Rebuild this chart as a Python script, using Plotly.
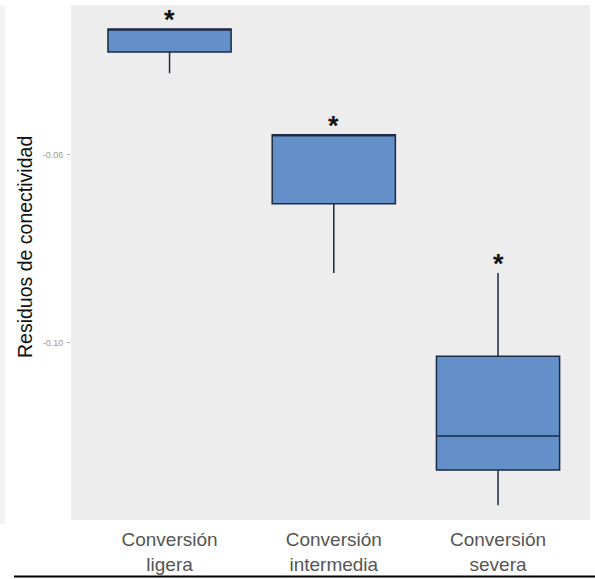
import plotly.graph_objects as go

# Connectivity residuals by land-conversion class (box summary statistics)
categories = ["Conversión<br>ligera", "Conversión<br>intermedia", "Conversión<br>severa"]
positions = [0, 1, 2]
q1 = [-0.0381, -0.0704, -0.1270]
median = [-0.0332, -0.0557, -0.1198]
q3 = [-0.0332, -0.0557, -0.1028]
lower_fence = [-0.0426, -0.0851, -0.1345]
upper_fence = [-0.0332, -0.0557, -0.0851]
significance = ["*", "*", "*"]

y_ticks = [-0.06, -0.10]
y_tick_labels = ["-0.06", "-0.10"]

W, H = 595, 579
M_L, M_R, M_T, M_B = 71, 5, 5, 59

fig = go.Figure()

fig.add_trace(go.Box(
    x=positions,
    q1=q1,
    median=median,
    q3=q3,
    lowerfence=lower_fence,
    upperfence=upper_fence,
    width=0.75,
    whiskerwidth=0,
    fillcolor="#6390c8",
    line=dict(color="#1c2a45", width=1.5),
    boxpoints=False,
    hoverinfo="skip",
    showlegend=False,
))

# Significance marks just above each box's upper extent
for xp, top, mark in zip(positions, upper_fence, significance):
    fig.add_annotation(
        x=xp, y=top, text=f"<b>{mark}</b>", showarrow=False,
        xanchor="center", yanchor="bottom", yshift=-8,
        font=dict(family="Liberation Sans, Arial", size=27, color="#111111"),
    )

plot_h = H - M_T - M_B
plot_w = W - M_L - M_R

# Y-axis title
fig.add_annotation(
    xref="paper", yref="paper",
    x=(25 - M_L) / plot_w, y=(H - M_B - 247) / plot_h,
    text="Residuos de conectividad", textangle=-90, showarrow=False,
    xanchor="center", yanchor="middle",
    font=dict(family="Liberation Sans, Arial", size=19.5, color="#111111"),
)

# Faint frame strip on the left and black rule along the bottom
fig.add_shape(
    type="rect", xref="paper", yref="paper",
    x0=(0 - M_L) / plot_w, x1=(5 - M_L) / plot_w,
    y0=(H - M_B - 524) / plot_h, y1=1,
    fillcolor="#f3f3f3", line=dict(width=0), layer="below",
)
fig.add_shape(
    type="line", xref="paper", yref="paper",
    x0=(14 - M_L) / plot_w, x1=(W - M_L) / plot_w,
    y0=(H - M_B - 576.5) / plot_h, y1=(H - M_B - 576.5) / plot_h,
    line=dict(color="#000000", width=2),
)

fig.update_layout(
    width=W, height=H,
    margin=dict(l=M_L, r=M_R, t=M_T, b=M_B),
    paper_bgcolor="#ffffff",
    plot_bgcolor="#ededed",
    font=dict(family="Liberation Sans, Arial"),
    xaxis=dict(
        range=[-0.6, 2.56],
        tickvals=positions,
        ticktext=categories,
        ticks="",
        ticklabelstandoff=6,
        showgrid=False,
        zeroline=False,
        showline=False,
        tickfont=dict(size=19, color="#555555"),
    ),
    yaxis=dict(
        range=[-0.13766, -0.02809],
        tickvals=y_ticks,
        ticktext=y_tick_labels,
        ticks="outside",
        ticklen=3,
        tickcolor="#aaaaaa",
        ticklabelstandoff=2,
        showgrid=False,
        zeroline=False,
        showline=False,
        tickfont=dict(size=9, color="#999999"),
    ),
)

fig.write_html("out.html")
